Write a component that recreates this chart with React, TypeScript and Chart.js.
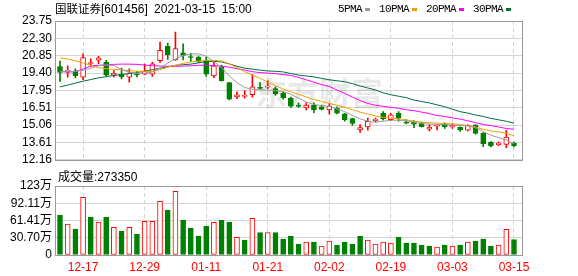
import React, { useEffect, useRef } from "react";
import { Chart, registerables } from "chart.js";

Chart.register(...registerables);

const title = "国联证券[601456] 2021-03-15 15:00";
const stockName = "国联证券";
const stockInfo = "[601456] 2021-03-15 15:00";

const dates = [
  "12-14", "12-15", "12-16", "12-17", "12-18", "12-21", "12-22", "12-23", "12-24", "12-25",
  "12-28", "12-29", "12-30", "12-31", "01-04", "01-05", "01-06", "01-07", "01-08", "01-11",
  "01-12", "01-13", "01-14", "01-15", "01-18", "01-19", "01-20", "01-21", "01-22", "01-25",
  "01-26", "01-27", "01-28", "01-29", "02-01", "02-02", "02-03", "02-04", "02-05", "02-08",
  "02-09", "02-10", "02-18", "02-19", "02-22", "02-23", "02-24", "02-25", "02-26", "03-01",
  "03-02", "03-03", "03-04", "03-05", "03-08", "03-09", "03-10", "03-11", "03-12", "03-15",
];

const openPrice = [
  19.95, 19.55, 19.59, 19.06, 20.2, 20.47, 20.29, 19.22, 19.32, 19.06,
  19.32, 19.32, 19.3, 20.43, 21.63, 20.51, 21.09, 20.77, 20.72, 20.49,
  19.16, 19.95, 18.6, 17.41, 17.45, 17.59, 18.2, 18.22, 18.11, 17.71,
  17.31, 16.72, 16.5, 16.72, 16.59, 16.32, 16.45, 16.0, 15.6, 14.65,
  14.9, 15.43, 16.05, 15.51, 16.05, 15.26, 15.34, 15.24, 14.71, 14.96,
  15.18, 14.9, 14.87, 14.63, 15.06, 14.36, 13.63, 13.42, 13.45, 13.55,
];
const closePrice = [
  19.45, 19.62, 19.19, 20.69, 20.25, 20.67, 19.22, 19.4, 19.08, 19.4,
  19.24, 19.54, 20.18, 21.31, 20.93, 21.44, 20.88, 20.7, 20.37, 19.32,
  20.01, 18.76, 17.23, 17.58, 17.54, 18.25, 18.12, 18.32, 17.66, 17.35,
  16.64, 16.62, 16.72, 16.32, 16.37, 16.64, 16.05, 15.51, 15.19, 14.84,
  15.38, 15.56, 15.58, 15.92, 15.64, 15.22, 15.14, 14.92, 14.9, 15.0,
  14.9, 15.03, 14.65, 15.03, 14.37, 13.5, 13.34, 13.55, 14.05, 13.33,
];
const highPrice = [
  20.4, 20.0, 19.75, 21.01, 20.6, 20.8, 20.47, 19.62, 19.81, 19.75,
  19.54, 20.15, 20.3, 21.98, 21.9, 22.83, 21.85, 21.04, 20.83, 20.73,
  20.29, 20.07, 18.62, 17.83, 17.93, 19.27, 18.6, 18.76, 18.25, 17.83,
  17.39, 16.91, 16.91, 16.91, 16.72, 16.85, 16.59, 16.05, 15.64, 15.11,
  15.64, 15.64, 16.18, 16.05, 16.18, 15.51, 15.43, 15.28, 15.1, 15.11,
  15.24, 15.16, 14.92, 15.11, 15.11, 14.44, 13.69, 13.66, 14.63, 13.63,
];
const lowPrice = [
  18.7, 19.05, 19.0, 18.86, 19.95, 20.18, 19.14, 19.08, 18.92, 18.65,
  19.08, 19.27, 19.12, 20.29, 20.55, 20.45, 20.5, 20.37, 20.29, 19.12,
  19.02, 18.72, 17.15, 17.27, 17.3, 17.39, 18.03, 18.07, 17.53, 17.23,
  16.53, 16.56, 16.32, 16.1, 16.32, 15.97, 16.0, 15.38, 15.03, 14.44,
  14.63, 15.32, 15.46, 15.43, 15.38, 15.16, 14.84, 14.9, 14.57, 14.65,
  14.79, 14.79, 14.52, 14.57, 14.31, 13.26, 13.24, 13.34, 13.18, 13.23,
];
const volume = [
  712000, 552000, 463000, 1027000, 676000, 587000, 676000, 493000, 427000, 493000,
  374000, 600000, 600000, 955000, 801000, 1133000, 623000, 481000, 338000, 516000,
  581000, 623000, 587000, 314000, 267000, 652000, 398000, 398000, 398000, 285000,
  338000, 196000, 231000, 231000, 160000, 249000, 178000, 231000, 196000, 338000,
  267000, 196000, 231000, 214000, 320000, 214000, 214000, 178000, 160000, 142000,
  178000, 160000, 178000, 231000, 249000, 285000, 160000, 178000, 457000, 273350,
];

const ma5 = [
  19.56, 19.52, 19.54, 19.64, 19.81, 20.01, 20.07, 20.05, 19.68, 19.48,
  19.4, 19.4, 19.48, 19.81, 20.25, 20.57, 20.89, 21.01, 21.01, 20.81,
  20.37, 19.85, 19.16, 18.6, 18.2, 18.05, 18.01, 17.97, 17.93, 17.87,
  17.63, 17.31, 16.99, 16.79, 16.67, 16.63, 16.42, 16.18, 15.86, 15.58,
  15.38, 15.3, 15.38, 15.46, 15.47, 15.42, 15.3, 15.19, 15.14, 15.11,
  15.1, 15.06, 15.03, 14.98, 14.84, 14.53, 14.21, 14.01, 13.81, 13.5,
];
const ma10 = [
  20.67, 20.57, 20.43, 20.25, 20.05, 19.85, 19.77, 19.71, 19.67, 19.6,
  19.56, 19.54, 19.56, 19.68, 19.89, 20.05, 20.21, 20.33, 20.41, 20.47,
  20.46, 20.41, 20.17, 19.85, 19.52, 19.24, 18.96, 18.64, 18.36, 18.07,
  17.83, 17.63, 17.41, 17.19, 17.03, 16.87, 16.71, 16.55, 16.34, 16.14,
  15.98, 15.82, 15.72, 15.64, 15.58, 15.5, 15.38, 15.31, 15.26, 15.22,
  15.19, 15.16, 15.11, 15.02, 14.9, 14.71, 14.57, 14.49, 14.37, 14.17,
];
const ma20 = [
  19.54, 19.48, 19.52, 19.73, 20.01, 20.05, 20.09, 20.13, 20.15, 20.15,
  20.13, 20.07, 20.02, 19.99, 19.97, 19.97, 19.98, 20.01, 20.05, 20.05,
  20.02, 19.98, 19.89, 19.77, 19.65, 19.52, 19.44, 19.4, 19.35, 19.28,
  19.2, 19.04, 18.84, 18.64, 18.44, 18.28, 17.99, 17.71, 17.39, 17.11,
  16.87, 16.71, 16.63, 16.53, 16.46, 16.34, 16.26, 16.14, 16.02, 15.86,
  15.78, 15.66, 15.56, 15.42, 15.26, 15.11, 15.02, 14.9, 14.77, 14.71,
];
const ma30 = [
  18.25, 18.4, 18.56, 18.72, 18.86, 19.0, 19.1, 19.2, 19.28, 19.36,
  19.44, 19.56, 19.68, 19.81, 19.93, 20.05, 20.1, 20.15, 20.25, 20.37,
  20.38, 20.33, 20.17, 19.97, 19.81, 19.73, 19.65, 19.58, 19.55, 19.5,
  19.36, 19.24, 19.16, 19.08, 18.96, 18.84, 18.76, 18.68, 18.52, 18.32,
  18.16, 17.99, 17.75, 17.59, 17.47, 17.35, 17.15, 17.03, 16.91, 16.75,
  16.59, 16.38, 16.18, 16.06, 15.9, 15.78, 15.62, 15.5, 15.38, 15.22,
];

const maNames = ["5PMA", "10PMA", "20PMA", "30PMA"];
const maColors = ["#9b9b9b", "#f0a000", "#ff00ff", "#00703c"];
const maSeries = [ma5, ma10, ma20, ma30];

const priceTicks = [23.75, 22.3, 20.85, 19.4, 17.95, 16.51, 15.06, 13.61, 12.16];
const priceTickLabels = ["23.75", "22.30", "20.85", "19.40", "17.95", "16.51", "15.06", "13.61", "12.16"];
const volTicks = [0, 307000, 614100, 921100, 1228200];
const volTickLabels = ["0", "30.70万", "61.41万", "92.11万", "123万"];
const xTickLabels = ["12-17", "12-29", "01-11", "01-21", "02-02", "02-19", "03-03", "03-15"];
const volumeLabel = "成交量";
const watermark = "东方财富";

const UP = "#ff0000";
const DOWN = "#008000";
const GRID = "#d4d4d4";
const FRAME = "#999999";
const FONT = '"Liberation Sans", "Noto Sans CJK SC", sans-serif';
const X_MIN = -0.65;
const X_MAX = 60.04;

const xTickIdx = xTickLabels.map((l) => dates.indexOf(l));
const candleUp = closePrice.map((c, i) => c >= openPrice[i]);
const volUp = closePrice.map((c, i) => (i === 0 ? c >= openPrice[0] : c >= closePrice[i - 1]));

const framePlugin = {
  id: "frame",
  afterDraw(chart: any) {
    const { ctx, chartArea: a } = chart;
    ctx.save();
    ctx.strokeStyle = FRAME;
    ctx.lineWidth = 1;
    ctx.setLineDash([]);
    ctx.strokeRect(
      Math.round(a.left) + 0.5,
      Math.round(a.top) + 0.5,
      Math.round(a.right - a.left),
      Math.round(a.bottom - a.top)
    );
    ctx.restore();
  },
};

const watermarkPlugin = {
  id: "watermark",
  beforeDatasetsDraw(chart: any) {
    const { ctx } = chart;
    ctx.save();
    ctx.fillStyle = "rgba(0,0,0,0.085)";
    ctx.font = 'bold 32px "Noto Sans CJK SC"';
    ctx.textBaseline = "middle";
    ctx.textAlign = "left";
    ctx.fillText(watermark, 255, 93);
    ctx.restore();
  },
};

function xScale(showLabels: boolean) {
  return {
    type: "linear",
    min: X_MIN,
    max: X_MAX,
    offset: false,
    afterBuildTicks: (s: any) => {
      s.ticks = xTickIdx.map((v) => ({ value: v }));
    },
    afterFit: (s: any) => {
      s.height = showLabels ? 21 : 0;
    },
    ticks: {
      display: showLabels,
      autoSkip: false,
      maxRotation: 0,
      color: UP,
      font: { family: FONT, size: 12 },
      padding: 5,
      callback: (v: any) => dates[v] ?? "",
    },
    grid: { color: GRID, drawTicks: false, offset: false },
    border: { display: false, dash: [4, 3] },
  };
}

export default function App() {
  const priceRef = useRef<HTMLCanvasElement>(null);
  const volRef = useRef<HTMLCanvasElement>(null);

  useEffect(() => {
    const bodyData = dates.map((_, i) => ({ x: i, y: [openPrice[i], closePrice[i]] }));
    const wickData = dates.map((_, i) => ({ x: i, y: [lowPrice[i], highPrice[i]] }));

    const priceChart = new Chart(priceRef.current as HTMLCanvasElement, {
      type: "bar",
      data: {
        datasets: [
          ...maSeries.map((s, k) => ({
            type: "line",
            label: maNames[k],
            data: s.map((v, i) => ({ x: i, y: v })),
            borderColor: maColors[k],
            borderWidth: 1,
            pointRadius: 0,
            tension: 0,
            fill: false,
            order: 0,
          })),
          {
            type: "bar",
            label: "body",
            data: bodyData,
            backgroundColor: candleUp.map((u) => (u ? "#ffffff" : DOWN)),
            borderColor: candleUp.map((u) => (u ? UP : DOWN)),
            borderWidth: 1,
            borderSkipped: false,
            grouped: false,
            barPercentage: 1,
            categoryPercentage: 1,
            maxBarThickness: 5,
            minBarLength: 1,
            order: 1,
          },
          {
            type: "bar",
            label: "wick",
            data: wickData,
            backgroundColor: candleUp.map((u) => (u ? UP : DOWN)),
            borderWidth: 0,
            grouped: false,
            barPercentage: 1,
            categoryPercentage: 1,
            maxBarThickness: 1,
            order: 2,
          },
        ] as any,
      },
      options: {
        animation: false,
        responsive: false,
        devicePixelRatio: 1,
        events: [],
        layout: { padding: { left: 0, right: 56, top: 21, bottom: 5 } },
        plugins: { legend: { display: false }, tooltip: { enabled: false } },
        scales: {
          x: xScale(false) as any,
          y: {
            type: "linear",
            min: 12.16,
            max: 23.75,
            afterBuildTicks: (s: any) => {
              s.ticks = priceTicks.map((v) => ({ value: v }));
            },
            afterFit: (s: any) => {
              s.width = 55;
            },
            ticks: {
              autoSkip: false,
              color: "#000000",
              font: { family: FONT, size: 12 },
              padding: 3,
              callback: (_v: any, i: number) => priceTickLabels[i],
            },
            grid: { color: GRID, drawTicks: false },
            border: { color: FRAME },
          },
        },
      },
      plugins: [watermarkPlugin, framePlugin],
    } as any);

    const volChart = new Chart(volRef.current as HTMLCanvasElement, {
      type: "bar",
      data: {
        datasets: [
          {
            label: volumeLabel,
            data: volume.map((v, i) => ({ x: i, y: v })),
            backgroundColor: volUp.map((u) => (u ? "#ffffff" : DOWN)),
            borderColor: volUp.map((u) => (u ? UP : DOWN)),
            borderWidth: 1,
            borderSkipped: false,
            grouped: false,
            barPercentage: 1,
            categoryPercentage: 1,
            maxBarThickness: 5,
          },
        ],
      },
      options: {
        animation: false,
        responsive: false,
        devicePixelRatio: 1,
        events: [],
        layout: { padding: { left: 0, right: 56, top: 16, bottom: 0 } },
        plugins: { legend: { display: false }, tooltip: { enabled: false } },
        scales: {
          x: xScale(true) as any,
          y: {
            type: "linear",
            min: 0,
            max: 1228200,
            afterBuildTicks: (s: any) => {
              s.ticks = volTicks.map((v) => ({ value: v }));
            },
            afterFit: (s: any) => {
              s.width = 55;
            },
            ticks: {
              autoSkip: false,
              color: "#000000",
              font: { family: FONT, size: 12 },
              padding: 3,
              callback: (_v: any, i: number) => volTickLabels[i],
            },
            grid: { color: GRID, drawTicks: false },
            border: { color: FRAME },
          },
        },
      },
      plugins: [framePlugin],
    } as any);

    return () => {
      priceChart.destroy();
      volChart.destroy();
    };
  }, []);

  return (
    <div
      style={{
        position: "absolute",
        left: 0,
        top: 0,
        width: 578,
        height: 276,
        background: "#ffffff",
        overflow: "hidden",
      }}
    >
      <canvas ref={priceRef} width={578} height={170} style={{ position: "absolute", left: 0, top: 0 }} />
      <canvas ref={volRef} width={578} height={106} style={{ position: "absolute", left: 0, top: 170 }} />
      <div
        aria-label={title}
        style={{
          position: "absolute",
          left: 55,
          top: 2,
          fontFamily: FONT,
          fontSize: 12,
          lineHeight: "14px",
          color: "#000",
          whiteSpace: "pre",
          wordSpacing: 3,
        }}
      >
        <span style={{ fontSize: 11.5 }}>{stockName}</span>
        <span>{stockInfo}</span>
      </div>
      <div
        style={{
          position: "absolute",
          left: 338,
          top: 2,
          height: 14,
          display: "flex",
          alignItems: "center",
          fontFamily: '"Liberation Mono", monospace',
          fontSize: 11,
          letterSpacing: -0.6,
          color: "#000",
          whiteSpace: "pre",
        }}
      >
        {maNames.map((n, k) => (
          <div key={n} style={{ display: "flex", alignItems: "center", marginRight: 9 }}>
            <span>{n}</span>
            <span
              style={{
                display: "inline-block",
                width: 5,
                height: 3,
                marginLeft: 3,
                background: maColors[k],
              }}
            />
          </div>
        ))}
      </div>
      <div
        style={{
          position: "absolute",
          left: 58,
          top: 170,
          fontFamily: FONT,
          fontSize: 12,
          lineHeight: "14px",
          color: "#000",
          whiteSpace: "pre",
        }}
      >
        {volumeLabel}:{volume[volume.length - 1]}
      </div>
    </div>
  );
}
